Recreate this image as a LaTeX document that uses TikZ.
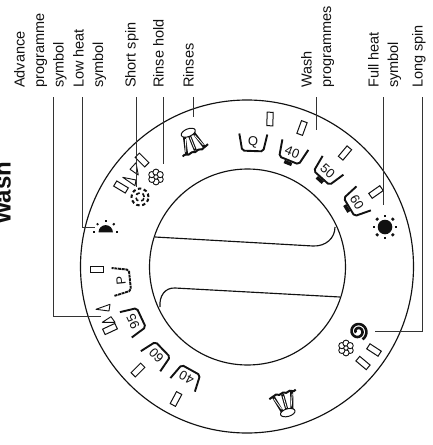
\documentclass[tikz,border=0pt]{standalone}
\usepackage{fontspec}
\setmainfont{Liberation Sans}
\usetikzlibrary{arrows.meta,positioning,calc}
\definecolor{ink}{HTML}{111111}
\definecolor{leadgray}{HTML}{333333}
\tikzset{
  calloutlabel/.style={
    rotate=90,
    anchor=north west,
    align=left,
    inner sep=0pt,
    text=ink,
    font=\fontsize{14.5}{19.5}\selectfont
  },
  titlelabel/.style={rotate=90,anchor=base west,inner sep=0pt,text=ink,font=\fontsize{24}{28}\selectfont\bfseries},
  lamp/.style={draw=ink,fill=white,line width=1pt,minimum width=13.5pt,minimum height=6pt,inner sep=0pt},
  tubtext/.style={inner sep=0pt,text=ink,font=\fontsize{13}{15}\selectfont},
  tubline/.style={draw=ink,line width=1.9pt,rounded corners=2pt},
  tubdots/.style={dash pattern=on 3pt off 0.7pt},
  dialline/.style={draw=ink,line width=1.15pt},
  leader/.style={draw=leadgray,line width=0.9pt},
  pointer/.style={draw=ink,fill=white,line width=0.9pt,line join=round},
  petal/.style={draw=ink,fill=white,line width=0.9pt},
  rinsebar/.style={draw=ink,line width=3pt},
  rinsegap/.style={draw=white,line width=0.8pt}
}

\begin{document}
\begin{tikzpicture}[x=1pt,y=-1pt]
  \useasboundingbox (0,0) rectangle (433,445);
  \clip (0,0) rectangle (433,445);

  % dial
  \draw[dialline] (247,266.5) circle[radius=166.5pt];
  \draw[dialline] (247.5,267) circle[radius=98pt];
  \draw[dialline] (155,237) -- (313,246) .. controls (326,246.5) and (335,238) .. (335,227);
  \draw[dialline] (340,297) -- (175,288) .. controls (165,287.5) and (159,296) .. (160,307);

  % labels
  \node[titlelabel] (titlelabel) at (10.7,225) {Wash};
  \node[calloutlabel] (advlabel)   at (14,88)  {Advance\\programme\\symbol};
  \node[calloutlabel] (lowlabel)   at (73,88)  {Low heat\\symbol};
  \node[calloutlabel] (shortlabel) at (125,88) {Short spin};
  \node[calloutlabel] (holdlabel)  at (153,88) {Rinse hold};
  \node[calloutlabel] (rinselabel) at (183,88) {Rinses};
  \node[calloutlabel] (washlabel)  at (301,88) {Wash\\programmes};
  \node[calloutlabel] (fulllabel)  at (368,88) {Full heat\\symbol};
  \node[calloutlabel] (longlabel)  at (412,88) {Long spin};

  % lamps
  \node[lamp,rotate=88]  (lampa) at (270,119) {};
  \node[lamp,rotate=70]  (lampb) at (302,128) {};
  \node[lamp,rotate=50]  (lampc) at (345,153) {};
  \node[lamp,rotate=35]  (lampd) at (376,192) {};
  \node[lamp,rotate=-33] (lampe) at (374,350) {};
  \node[lamp,rotate=-40] (lampf) at (363,363) {};
  \node[lamp,rotate=62]  (lampg) at (176,399) {};
  \node[lamp,rotate=45]  (lamph) at (138,370) {};
  \node[lamp,rotate=25]  (lampi) at (110,329) {};
  \node[lamp,rotate=0]   (lampj) at (97,269) {};
  \node[lamp,rotate=-45] (lampk) at (142,160) {};
  \node[lamp,rotate=-31] (lampl) at (121,187) {};

  % pointers
  \draw[pointer] (122.7,177.3) -- (136,180) -- (135,185.7) -- cycle;
  \draw[pointer] (130,169.3) -- (138.3,175) -- (136,162.7) -- cycle;
  \draw[pointer] (96,309.3) -- (110,304.3) -- (109,311) -- cycle;
  \draw[pointer] (102.3,322.3) -- (111,316.7) -- (115,322.3) -- cycle;

  % tubs
  \foreach \tubx/\tuby/\tubang/\tubval/\tubname/\tubdash in {
    253/143/-2/Q/tubq/solid,292/153/-22/40/tubb/solid,327/172/-42/50/tubc/solid,356/203/-59/60/tubd/solid,
    187/377/151/40/tube/solid,157/355/134/60/tubf/solid,134/321/115/95/tubg/solid,122/281/96/P/tubh/tubdots}
  {
    \begin{scope}[shift={(\tubx,\tuby)},rotate=\tubang]
      \draw[tubline,\tubdash] (-14,-9) -- (-10.5,8) -- (10.5,8) -- (14,-9);
      \node[tubtext,transform shape] (\tubname) at (0,-1) {\tubval};
    \end{scope}
  }
  \foreach \tubx/\tuby/\tubang in {292/153/-22,327/172/-42,356/203/-59}
  {
    \begin{scope}[shift={(\tubx,\tuby)},rotate=\tubang]
      \fill[ink] (-4,9) rectangle (4,12.5);
    \end{scope}
  }

  % heat symbols
  \fill[ink] (385,227) circle[radius=7.3pt];
  \foreach \rayang in {0,45,...,315}
    \draw[ink,line width=2.5pt] (385,227) ++(\rayang:9.8) -- ++(\rayang:2.5);
  \fill[ink] (98.5,232.3) arc[start angle=180,end angle=0,radius=7.2pt] -- cycle;
  \foreach \rayang in {0,45,90,135,180}
    \draw[ink,line width=1.9pt] (105.7,232.3) ++(-\rayang:10.5) -- ++(-\rayang:2);

  % flowers
  \foreach \flowerx/\flowery in {156/177,346/348}
  {
    \foreach \petalang in {30,90,...,330}
      \draw[petal] (\flowerx,\flowery) ++(\petalang:4.8) circle[radius=3.1pt];
    \draw[petal] (\flowerx,\flowery) circle[radius=2.2pt];
  }

  % rinses
  \foreach \rinsex/\rinsey/\rinseang in {192/142/22,285/403/196}
  {
    \begin{scope}[shift={(\rinsex,\rinsey)},rotate=\rinseang]
      \foreach \bartop/\barfoot in {-5/-9.5,0/0,5/9.5}
      {
        \draw[rinsebar] (\bartop,-8) -- (\barfoot,9);
        \draw[rinsegap] (\bartop,-5) -- (\barfoot,7);
      }
      \draw[ink,fill=white,line width=1pt] (0,-10) ellipse[x radius=7.5pt,y radius=3.8pt];
      \draw[ink,line width=2pt] (-14,10) .. controls (-11,7) and (-9,12) .. (-6,10)
        .. controls (-3,8) and (-2,12) .. (1,10) .. controls (4,8) and (6,12) .. (8,10)
        .. controls (10,8) and (12,10) .. (14,8);
    \end{scope}
  }

  % spins
  \draw[ink,line width=2.6pt] plot[domain=0:630,samples=90,smooth] ({358+(2.2+6.8*\x/630)*cos(\x-570)},{331.5+(2.2+6.8*\x/630)*sin(\x-570)});
  \draw[ink,line width=2pt,dash pattern=on 3.4pt off 2.6pt] (140,197) circle[radius=8.5pt];
  \draw[ink,line width=1.6pt,dash pattern=on 4pt off 3pt] (140,197) circle[radius=4.3pt];

  % leaders
  \coordinate (advbend)   at (53,316);
  \coordinate (advend)    at (101,316);
  \coordinate (lowbend)   at (82,227);
  \coordinate (lowend)    at (95,227);
  \coordinate (longbend)  at (422,331);
  \coordinate (longend)   at (375,331);
  \coordinate (shortend)  at (136,187);
  \coordinate (holdend)   at (163,164);
  \coordinate (rinseend)  at (193,117);
  \coordinate (washend)   at (316,130);
  \coordinate (fullend)   at (383,205);

  \foreach \leadname in {adv,low,long}
    \draw[leader] ([yshift=-9pt]\leadname label.west -| \leadname bend) -- (\leadname bend) -- (\leadname end);
  \foreach \leadname in {short,hold,rinse,wash,full}
    \draw[leader] ([yshift=-9pt]\leadname label.west -| \leadname end) -- (\leadname end);
\end{tikzpicture}
\end{document}
